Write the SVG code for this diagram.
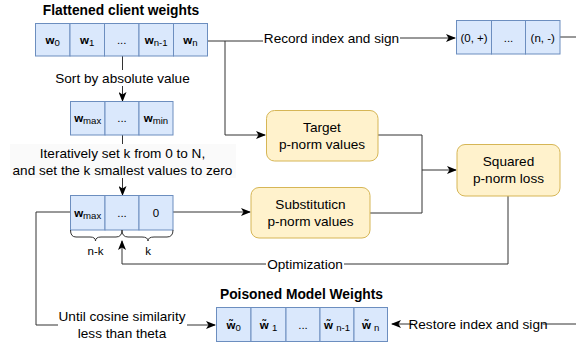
<svg xmlns="http://www.w3.org/2000/svg" width="576" height="343" viewBox="0 0 576 343">
<style>
text{font-family:"Liberation Sans",Arial,sans-serif;fill:#000}
.lbl{font-size:13.6px}
.ttl{font-size:13.8px;font-weight:bold}
.cell{fill:#dae8fc;stroke:#6c8ebf;stroke-width:1}
.box{fill:#fff2cc;stroke:#d6b656;stroke-width:1}
.ct{font-size:11.5px}
.w{font-weight:bold;font-size:11.5px}
.sub{font-size:9.6px}
.ln{fill:none;stroke:#333;stroke-width:1}
.brace{fill:none;stroke:#333;stroke-width:1}
</style>
<defs>
<marker id="ah" viewBox="0 0 10 8" refX="9" refY="4" markerWidth="10" markerHeight="8" markerUnits="userSpaceOnUse" orient="auto">
<path d="M0,0 L10,4 L0,8 L2.5,4 z" fill="#000"/>
</marker>
</defs>

<g id="connectors">
<!-- record index -->
<path class="ln" d="M207,41 H263"/>
<path class="ln" d="M400,38 H455" marker-end="url(#ah)"/>
<path class="ln" d="M560,37 H576"/>
<!-- branch to target -->
<path class="ln" d="M225,41 V135 H265" marker-end="url(#ah)"/>
<!-- sort -->
<path class="ln" d="M122.5,56 V101" marker-end="url(#ah)"/>
<!-- iteratively -->
<path class="ln" d="M122.5,135 V195" marker-end="url(#ah)"/>
<!-- third array to substitution -->
<path class="ln" d="M173,212 H250" marker-end="url(#ah)"/>
<!-- target & substitution to squared -->
<path class="ln" d="M378,135 H422 V213 H370"/>
<path class="ln" d="M422,170 H456" marker-end="url(#ah)"/>
<!-- optimization -->
<path class="ln" d="M508,196 V264 H122 V241" marker-end="url(#ah)"/>
<!-- loop cosine -->
<path class="ln" d="M70,212 H36 V325 H58"/>
<path class="ln" d="M187,325 H215" marker-end="url(#ah)"/>
<!-- restore -->
<path class="ln" d="M543,324 H576"/>
<path class="ln" d="M413,324 H392" marker-end="url(#ah)"/>
</g>

<!-- edge labels -->
<g id="labels">
<text class="lbl" x="331.5" y="43" text-anchor="middle">Record index and sign</text>
<rect x="52" y="70" width="142" height="16" fill="#fff"/>
<text class="lbl" x="122.5" y="83" text-anchor="middle">Sort by absolute value</text>
<rect x="10" y="144" width="226" height="34" fill="#fafafa"/>
<text class="lbl" x="122.5" y="158" text-anchor="middle">Iteratively set k from 0 to N,</text>
<text class="lbl" x="122.5" y="175" text-anchor="middle">and set the k smallest values to zero</text>
<rect x="266" y="256" width="78" height="16" fill="#fff"/>
<text class="lbl" x="305" y="269" text-anchor="middle">Optimization</text>
<text class="lbl" x="122" y="321" text-anchor="middle">Until cosine similarity</text>
<text class="lbl" x="122" y="338" text-anchor="middle">less than theta</text>
<text class="lbl" x="478" y="329" text-anchor="middle">Restore index and sign</text>
</g>

<g id="flattened">
<text class="ttl" x="121" y="15" text-anchor="middle">Flattened client weights</text>
<rect class="cell" x="35.5" y="23.5" width="34.5" height="32.5"/>
<rect class="cell" x="70" y="23.5" width="34.5" height="32.5"/>
<rect class="cell" x="104.5" y="23.5" width="34.5" height="32.5"/>
<rect class="cell" x="139" y="23.5" width="34.5" height="32.5"/>
<rect class="cell" x="173.5" y="23.5" width="34" height="32.5"/>
<text x="52.7" y="44" text-anchor="middle"><tspan class="w">w</tspan><tspan class="sub" dy="2">0</tspan></text>
<text x="87.2" y="44" text-anchor="middle"><tspan class="w">w</tspan><tspan class="sub" dy="2">1</tspan></text>
<text class="ct" x="121.7" y="44" text-anchor="middle">...</text>
<text x="156.2" y="44" text-anchor="middle"><tspan class="w">w</tspan><tspan class="sub" dy="2">n-1</tspan></text>
<text x="190.5" y="44" text-anchor="middle"><tspan class="w">w</tspan><tspan class="sub" dy="2">n</tspan></text>
</g>

<g id="index-sign">
<rect class="cell" x="456.5" y="20.5" width="35" height="33.5"/>
<rect class="cell" x="491.5" y="20.5" width="34" height="33.5"/>
<rect class="cell" x="525.5" y="20.5" width="34.5" height="33.5"/>
<text class="ct" x="474" y="41.5" text-anchor="middle">(0, +)</text>
<text class="ct" x="508.5" y="41.5" text-anchor="middle">...</text>
<text class="ct" x="542.7" y="41.5" text-anchor="middle">(n, -)</text>
</g>

<g id="sorted">
<rect class="cell" x="70.5" y="101.5" width="34.5" height="33.5"/>
<rect class="cell" x="105" y="101.5" width="34" height="33.5"/>
<rect class="cell" x="139" y="101.5" width="34" height="33.5"/>
<text x="87.7" y="122" text-anchor="middle"><tspan class="w">w</tspan><tspan class="sub" dy="2">max</tspan></text>
<text class="ct" x="122" y="122" text-anchor="middle">...</text>
<text x="156" y="122" text-anchor="middle"><tspan class="w">w</tspan><tspan class="sub" dy="2">min</tspan></text>
</g>

<g id="zeroed">
<rect class="cell" x="70.5" y="195.5" width="34.5" height="34.5"/>
<rect class="cell" x="105" y="195.5" width="34" height="34.5"/>
<rect class="cell" x="139" y="195.5" width="34" height="34.5"/>
<text x="87.7" y="216.5" text-anchor="middle"><tspan class="w">w</tspan><tspan class="sub" dy="2">max</tspan></text>
<text class="ct" x="122" y="216.5" text-anchor="middle">...</text>
<text class="ct" x="156" y="216.5" text-anchor="middle">0</text>
<path class="brace" d="M70.5,230 Q70.5,237 76,237 H90 Q95.5,237 95.5,241 Q95.5,237 101,237 H116 Q122,237 122,230"/>
<path class="brace" d="M122,230 Q122,237 128,237 H142 Q148,237 148,241 Q148,237 154,237 H167 Q173,237 173,230"/>
<text class="ct" x="95.5" y="255" text-anchor="middle">n-k</text>
<text class="ct" x="148" y="255" text-anchor="middle">k</text>
</g>

<g id="target">
<rect class="box" x="266.5" y="110.5" width="111.5" height="50.5" rx="8"/>
<text class="lbl" x="322" y="132" text-anchor="middle">Target</text>
<text class="lbl" x="322" y="149" text-anchor="middle">p-norm values</text>
</g>

<g id="substitution">
<rect class="box" x="251" y="187.5" width="119" height="50.5" rx="8"/>
<text class="lbl" x="310.5" y="209" text-anchor="middle">Substituticn</text>
<text class="lbl" x="310.5" y="226" text-anchor="middle">p-norm values</text>
</g>

<g id="squared">
<rect class="box" x="457" y="144.5" width="103" height="51.5" rx="8"/>
<text class="lbl" x="508.5" y="166" text-anchor="middle">Squared</text>
<text class="lbl" x="508.5" y="183" text-anchor="middle">p-norm loss</text>
</g>

<g id="poisoned">
<text class="ttl" x="301.5" y="299" text-anchor="middle">Poisoned Model Weights</text>
<rect class="cell" x="216.5" y="307.5" width="34.5" height="34"/>
<rect class="cell" x="251" y="307.5" width="35" height="34"/>
<rect class="cell" x="286" y="307.5" width="34" height="34"/>
<rect class="cell" x="320" y="307.5" width="34" height="34"/>
<rect class="cell" x="354" y="307.5" width="33.5" height="34"/>
<text x="233.7" y="329" text-anchor="middle"><tspan class="w">w̃</tspan><tspan class="sub" dy="2">0</tspan></text>
<text x="268.5" y="329" text-anchor="middle"><tspan class="w">w̃ </tspan><tspan class="sub" dy="2">1</tspan></text>
<text class="ct" x="303" y="329" text-anchor="middle">...</text>
<text x="337" y="329" text-anchor="middle"><tspan class="w">w̃ </tspan><tspan class="sub" dy="2">n-1</tspan></text>
<text x="370.7" y="329" text-anchor="middle"><tspan class="w">w̃ </tspan><tspan class="sub" dy="2">n</tspan></text>
</g>
</svg>
